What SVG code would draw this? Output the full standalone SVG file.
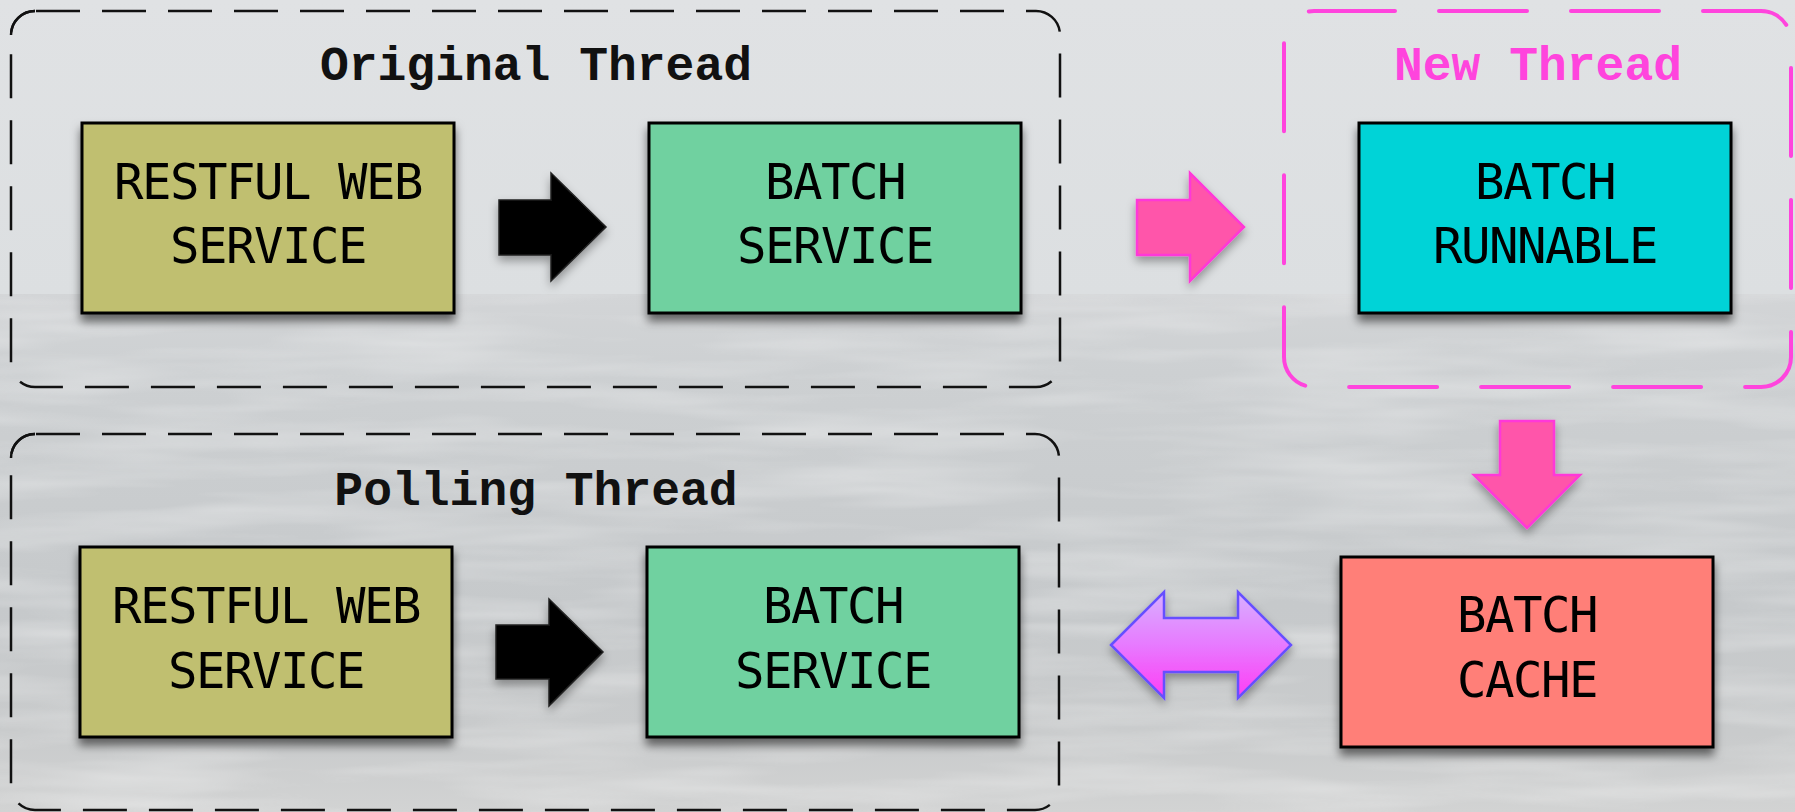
<svg xmlns="http://www.w3.org/2000/svg" width="1795" height="812" viewBox="0 0 1795 812">
  <defs>
    <linearGradient id="sky" x1="0" y1="0" x2="0" y2="1">
      <stop offset="0" stop-color="#e0e2e4"/>
      <stop offset="1" stop-color="#dcdfe1"/>
    </linearGradient>
    <linearGradient id="sea" x1="0" y1="0" x2="0" y2="1">
      <stop offset="0" stop-color="#d3d5d7"/>
      <stop offset="0.15" stop-color="#cdd0d2"/>
      <stop offset="0.6" stop-color="#c6c9cb"/>
      <stop offset="0.85" stop-color="#c9cbcc"/>
      <stop offset="1" stop-color="#d2d3d3"/>
    </linearGradient>
    <linearGradient id="dbl" x1="0" y1="0" x2="0" y2="1">
      <stop offset="0" stop-color="#d8b0ff"/>
      <stop offset="0.5" stop-color="#e77aff"/>
      <stop offset="1" stop-color="#ff3cf5"/>
    </linearGradient>
    <filter id="shadow" x="-10%" y="-10%" width="120%" height="130%">
      <feDropShadow dx="0" dy="7" stdDeviation="5" flood-color="#000" flood-opacity="0.55"/>
    </filter>
    <filter id="ashadow" x="-20%" y="-20%" width="140%" height="150%">
      <feDropShadow dx="0" dy="5" stdDeviation="5" flood-color="#000" flood-opacity="0.35"/>
    </filter>
    <filter id="texture" x="0" y="0" width="100%" height="100%">
      <feTurbulence type="fractalNoise" baseFrequency="0.004 0.04" numOctaves="3" seed="4" result="n"/>
      <feColorMatrix in="n" type="matrix" values="0 0 0 0 1  0 0 0 0 1  0 0 0 0 1  0 0 0 1.2 -0.45" result="w"/>
      <feComposite in="w" in2="SourceGraphic" operator="in"/>
    </filter>
    <style>
      .container { fill: none; stroke: #111; stroke-width: 2.5; stroke-dasharray: 44 22; stroke-dashoffset: 65; }
      .corner { fill: none; stroke: #111; stroke-width: 2.5; }
      .newthread { fill: none; stroke: #ff44dd; stroke-width: 4; stroke-dasharray: 88 44; stroke-dashoffset: 7; stroke-linecap: round; }
      .title { font-family: "Liberation Mono", "Courier New", monospace; font-weight: bold; font-size: 48px; text-anchor: middle; fill: #111; }
      .box { stroke: #000; stroke-width: 3; filter: url(#shadow); }
      .label { font-family: "DejaVu Sans Mono", monospace; font-size: 49px; letter-spacing: -1.5px; text-anchor: middle; fill: #000; }
      .blk { fill: #000; stroke: #222; stroke-width: 1.5; filter: url(#ashadow); }
      .pink { fill: #ff55aa; stroke: #ff38d8; stroke-width: 2.5; filter: url(#ashadow); }
    </style>
  </defs>

  <!-- background -->
  <rect x="0" y="0" width="1795" height="294" fill="url(#sky)"/>
  <rect x="0" y="294" width="1795" height="518" fill="url(#sea)"/>
  <rect x="0" y="294" width="1795" height="518" fill="#ffffff" filter="url(#texture)" opacity="0.5"/>

  <!-- containers -->
  <g id="original-thread">
    <rect class="container" x="11" y="11" width="1049" height="376" rx="24"/>
    <path class="corner" d="M11,35 A24,24 0 0 1 35,11"/>
    <text class="title" x="536" y="80">Original Thread</text>
  </g>
  <g id="new-thread">
    <rect class="newthread" x="1284" y="11" width="507" height="376" rx="30"/>
    <text class="title" x="1538" y="80" style="fill:#ff44dd">New Thread</text>
  </g>
  <g id="polling-thread">
    <rect class="container" x="11" y="434" width="1048" height="376" rx="24"/>
    <path class="corner" d="M11,458 A24,24 0 0 1 35,434"/>
    <text class="title" x="536" y="505">Polling Thread</text>
  </g>

  <!-- nodes -->
  <g id="restful-1">
    <rect class="box" x="82" y="123" width="372" height="190" fill="#c0bf6f"/>
    <text class="label" x="268" y="199">RESTFUL WEB</text>
    <text class="label" x="268" y="263">SERVICE</text>
  </g>
  <g id="batch-service-1">
    <rect class="box" x="649" y="123" width="372" height="190" fill="#70d1a0"/>
    <text class="label" x="835" y="199">BATCH</text>
    <text class="label" x="835" y="263">SERVICE</text>
  </g>
  <g id="batch-runnable">
    <rect class="box" x="1359" y="123" width="372" height="190" fill="#00d3d7"/>
    <text class="label" x="1545" y="199">BATCH</text>
    <text class="label" x="1545" y="263">RUNNABLE</text>
  </g>
  <g id="restful-2">
    <rect class="box" x="80" y="547" width="372" height="190" fill="#c0bf6f"/>
    <text class="label" x="266" y="623">RESTFUL WEB</text>
    <text class="label" x="266" y="688">SERVICE</text>
  </g>
  <g id="batch-service-2">
    <rect class="box" x="647" y="547" width="372" height="190" fill="#70d1a0"/>
    <text class="label" x="833" y="623">BATCH</text>
    <text class="label" x="833" y="688">SERVICE</text>
  </g>
  <g id="batch-cache">
    <rect class="box" x="1341" y="557" width="372" height="190" fill="#ff7f78"/>
    <text class="label" x="1527" y="632">BATCH</text>
    <text class="label" x="1527" y="697">CACHE</text>
  </g>

  <!-- connectors -->
  <g id="connectors">
    <polygon class="blk" points="499,200 551,200 551,173 606,227 551,281 551,255 499,255"/>
    <polygon class="blk" points="496,625 549,625 549,599 603,652 549,706 549,679 496,679"/>
    <polygon class="pink" points="1137,200 1190,200 1190,173 1244,227 1190,281 1190,255 1137,255"/>
    <polygon class="pink" points="1500,421 1554,421 1554,475 1580,475 1527,528 1474,475 1500,475"/>
    <polygon points="1111,645 1164,592 1164,618 1238,618 1238,592 1291,645 1238,698 1238,672 1164,672 1164,698" fill="url(#dbl)" stroke="#6650ff" stroke-width="2.5" filter="url(#ashadow)"/>
  </g>
</svg>
